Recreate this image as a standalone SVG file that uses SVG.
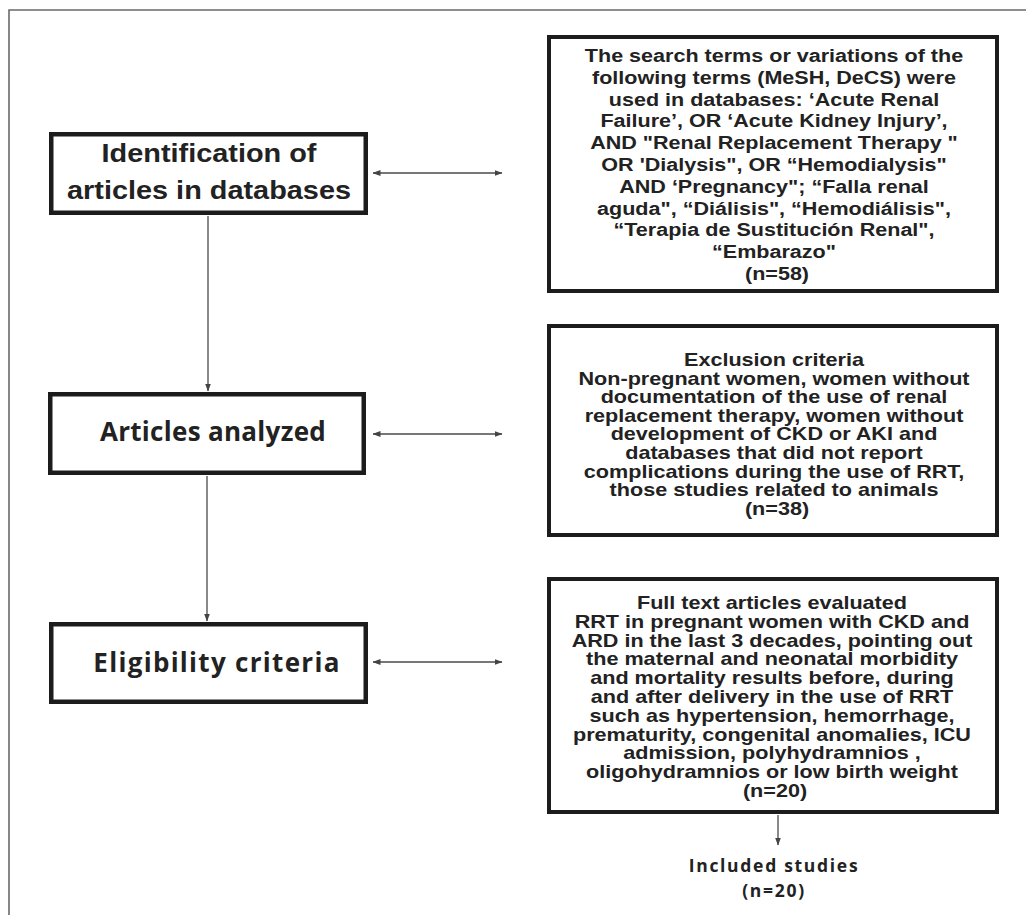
<svg xmlns="http://www.w3.org/2000/svg" width="1026" height="915" viewBox="0 0 1026 915">
<defs>
<marker id="ah" viewBox="0 0 8 6" refX="7.5" refY="3" markerWidth="8" markerHeight="6" markerUnits="userSpaceOnUse" orient="auto-start-reverse">
<path d="M0,0 L8,3 L0,6 Z" fill="#444"/>
</marker>
<style>
.frame{fill:none;stroke:#6a6a6a;stroke-width:1.6}
.lbox{fill:#fff;stroke:#1c1c1c;stroke-width:4.5}
.rbox{fill:#fff;stroke:#1c1c1c;stroke-width:4}
.conn{fill:none;stroke:#4a4a4a;stroke-width:1.3}
.arial{font-family:"Liberation Sans",Arial,sans-serif;font-weight:bold;fill:#222;text-anchor:middle}
.open{font-family:"Open Sans","Noto Sans",sans-serif;font-weight:bold;fill:#222;text-anchor:middle}
.big{font-size:26.5px}
.bigo{font-size:26px}
.s1{font-size:18.5px}
.s2{font-size:18px}
.inc{font-size:17.5px;letter-spacing:1.7px}
</style>
</defs>
<rect width="1026" height="915" fill="#fff"/>
<path class="frame" d="M9,915 V10 H1026"/>

<g id="connectors">
<line class="conn" x1="208" y1="216" x2="208" y2="391" marker-end="url(#ah)"/>
<line class="conn" x1="207" y1="476" x2="207" y2="621" marker-end="url(#ah)"/>
<line class="conn" x1="778" y1="815" x2="778" y2="845" marker-end="url(#ah)"/>
<line class="conn" x1="373" y1="173" x2="502" y2="173" marker-start="url(#ah)" marker-end="url(#ah)"/>
<line class="conn" x1="373" y1="434" x2="502" y2="434" marker-start="url(#ah)" marker-end="url(#ah)"/>
<line class="conn" x1="373" y1="662" x2="502" y2="662" marker-start="url(#ah)" marker-end="url(#ah)"/>
</g>

<g id="identification">
<rect class="lbox" x="51.25" y="134.25" width="314.5" height="78.5"/>
<text class="arial big" transform="translate(209,0) scale(1.09,1)"><tspan x="0" y="162">Identification of</tspan><tspan x="0" y="199">articles in databases</tspan></text>
</g>

<g id="analyzed">
<rect class="lbox" x="50.25" y="394.25" width="313.5" height="78.5"/>
<text class="open bigo" x="213" y="441" letter-spacing="0.3">Articles analyzed</text>
</g>

<g id="eligibility">
<rect class="lbox" x="51.25" y="624.25" width="314.5" height="77.5"/>
<text class="open bigo" x="217" y="672" letter-spacing="1.3">Eligibility criteria</text>
</g>

<g id="search-terms">
<rect class="rbox" x="549" y="37" width="448" height="254"/>
<text class="arial s1" transform="translate(777,0) scale(1.165,1)">
<tspan x="0" y="62">The search terms or variations of the</tspan>
<tspan x="0" y="83.8">following terms (MeSH, DeCS) were</tspan>
<tspan x="0" y="105.6">used in databases: ‘Acute Renal</tspan>
<tspan x="0" y="127.4">Failure’, OR ‘Acute Kidney Injury’,</tspan>
<tspan x="0" y="149.2">AND "Renal Replacement Therapy "</tspan>
<tspan x="0" y="171">OR 'Dialysis", OR “Hemodialysis"</tspan>
<tspan x="0" y="192.8">AND ‘Pregnancy"; “Falla renal</tspan>
<tspan x="0" y="214.6">aguda", “Diálisis", “Hemodiálisis",</tspan>
<tspan x="0" y="236.4">“Terapia de Sustitución Renal",</tspan>
<tspan x="0" y="258.2">“Embarazo"</tspan>
<tspan x="0" y="280">(n=58)</tspan>
</text>
</g>

<g id="exclusion">
<rect class="rbox" x="549" y="326" width="448" height="209"/>
<text class="arial s2" transform="translate(777,0) scale(1.2,1)">
<tspan x="0" y="366">Exclusion criteria</tspan>
<tspan x="0" y="384.6">Non-pregnant women, women without</tspan>
<tspan x="0" y="403.2">documentation of the use of renal</tspan>
<tspan x="0" y="421.8">replacement therapy, women without</tspan>
<tspan x="0" y="440.4">development of CKD or AKI and</tspan>
<tspan x="0" y="459">databases that did not report</tspan>
<tspan x="0" y="477.6">complications during the use of RRT,</tspan>
<tspan x="0" y="496.2">those studies related to animals</tspan>
<tspan x="0" y="514.8">(n=38)</tspan>
</text>
</g>

<g id="full-text">
<rect class="rbox" x="549" y="579" width="448" height="233"/>
<text class="arial s2" transform="translate(775,0) scale(1.2,1)">
<tspan x="0" y="609">Full text articles evaluated</tspan>
<tspan x="0" y="627.8">RRT in pregnant women with CKD and</tspan>
<tspan x="0" y="646.6">ARD in the last 3 decades, pointing out</tspan>
<tspan x="0" y="665.4">the maternal and neonatal morbidity</tspan>
<tspan x="0" y="684.2">and mortality results before, during</tspan>
<tspan x="0" y="703">and after delivery in the use of RRT</tspan>
<tspan x="0" y="721.8">such as hypertension, hemorrhage,</tspan>
<tspan x="0" y="740.6">prematurity, congenital anomalies, ICU</tspan>
<tspan x="0" y="759.4">admission, polyhydramnios ,</tspan>
<tspan x="0" y="778.2">oligohydramnios or low birth weight</tspan>
<tspan x="0" y="797">(n=20)</tspan>
</text>
</g>

<g id="included">
<text class="open inc"><tspan x="774" y="872">Included studies</tspan><tspan x="774" y="896.5">(n=20)</tspan></text>
</g>
</svg>
